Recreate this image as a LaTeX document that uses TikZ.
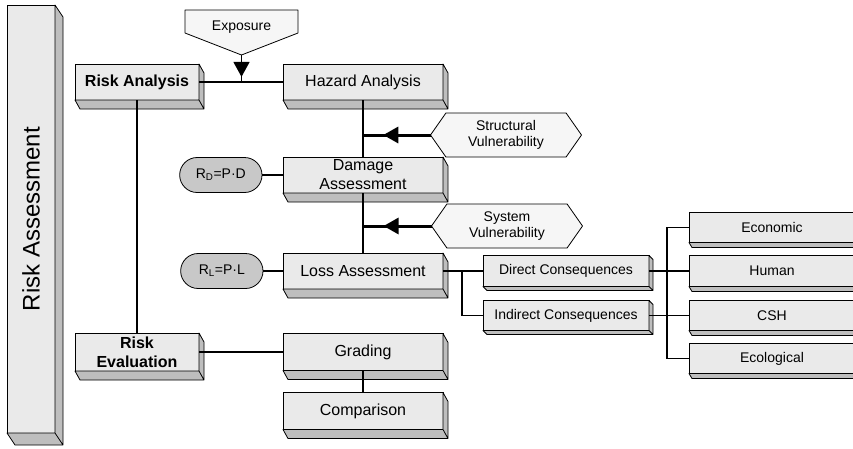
\documentclass[tikz,border=0pt]{standalone}
\usepackage{fontspec}
\setmainfont{Liberation Sans}
\usetikzlibrary{positioning,calc,shapes.symbols,shapes.misc,arrows.meta,backgrounds}
\definecolor{FaceGray}{RGB}{234,234,234}
\definecolor{SideGray}{RGB}{190,190,190}
\definecolor{PillGray}{RGB}{200,200,200}
\definecolor{PaleGray}{RGB}{246,246,246}

\begin{document}
\begin{tikzpicture}[
      x=1pt, y=-1pt,
      block/.style={rectangle, draw=black, fill=FaceGray, line width=0.8pt, outer sep=0pt, inner sep=2pt, align=center, minimum width=160pt, minimum height=36pt, font=\fontsize{16}{19}\selectfont},
      boldblock/.style={block, minimum width=124pt, font=\fontsize{16}{19}\selectfont\bfseries},
      small/.style={block, minimum width=166pt, minimum height=30pt, font=\fontsize{14}{17}\selectfont},
      pill/.style={rounded rectangle, draw=black, fill=PillGray, line width=0.8pt, outer sep=0pt, minimum width=89pt, minimum height=35pt, font=\fontsize{14}{17}\selectfont},
      hexa/.style={signal, signal to=west and east, signal pointer angle=110, draw=black, fill=PaleGray, line width=0.8pt, outer sep=0pt, minimum width=151pt, minimum height=44pt, align=center, font=\fontsize{14}{16.5}\selectfont},
      drop/.style={rectangle, outer sep=0pt, minimum width=113pt, inner ysep=0.5pt, text height=20pt, text depth=2pt, font=\fontsize{14}{17}\selectfont},
      depth/.style={fill=SideGray, draw=black, line width=0.8pt, line join=round},
      link/.style={line width=1.6pt},
      feed/.style={line width=3pt},
      tip/.style={-{Triangle[length=15pt,width=16pt]}}
    ]
      \useasboundingbox (0,0) rectangle (853,448);

      % main column
      \node[block, minimum width=48pt, minimum height=428pt, font=\fontsize{24}{28}\selectfont] (assess) at (31,219) {\rotatebox{90}{Risk Assessment}};
      \node[boldblock] (riskan) at (137,82) {Risk Analysis};
      \node[block] (hazard) at (363,82) {Hazard Analysis};
      \node[block, below=57pt of hazard] (damage) {Damage\\Assessment};
      \node[block, below=60pt of damage] (loss) {Loss Assessment};
      \node[boldblock, minimum height=38pt] (riskev) at (137,352) {Risk\\Evaluation};
      \node[block, minimum height=37pt] (grading) at (363,352) {Grading};
      \node[block, minimum height=37pt, below=22pt of grading] (compar) {Comparison};

      % inputs
      \node[drop, anchor=north] (exposure) at (241.5,10) {Exposure};
      \coordinate (exptip) at ($(exposure.south)+(0,22)$);
      \begin{scope}[on background layer]
        \filldraw[fill=PaleGray, line width=0.8pt, line join=round] (exposure.north west) -- (exposure.north east) -- (exposure.south east) -- (exptip) -- (exposure.south west) -- cycle;
      \end{scope}
      \node[hexa] (structural) at (506,135) {Structural\\Vulnerability};
      \node[hexa] (system) at (507,226) {System\\Vulnerability};
      \node[pill, left=21pt of damage] (rd) {R\textsubscript{D}=P·D};
      \node[pill, left=20pt of loss] (rl) {R\textsubscript{L}=P·L};

      % consequences
      \node[small, minimum height=31pt] (direct) at (566,271) {Direct Consequences};
      \node[small, below=14pt of direct] (indirect) {Indirect Consequences};
      \node[small, minimum height=31pt, right=40pt of direct] (human) {Human};
      \node[small, right=40pt of indirect] (csh) {CSH};
      \node[small, above=13pt of human] (economic) {Economic};
      \node[small, below=13pt of csh] (ecolog) {Ecological};

      % 3d sides
      \foreach \n/\dx/\dy in {assess/8/12, riskan/5/9, hazard/5/9, damage/5/9, loss/5/9, riskev/5/9, grading/5/9, compar/5/9, direct/4/4, indirect/4/4, economic/3/5, human/3/5, csh/3/5, ecolog/3/5}
        \filldraw[depth] (\n.north east) -- ++(\dx,\dy) -- ($(\n.south east)+(\dx,\dy)$) -- ($(\n.south west)+(\dx,\dy)$) -- (\n.south west) -- (\n.south east) -- cycle (\n.south east) -- ++(\dx,\dy);

      % connectors
      \coordinate (expjoin) at (exptip |- riskan.east);
      \draw[link] (riskan) -- (hazard);
      \draw[link] (exptip) -- (expjoin);
      \draw[link, tip] (exptip) -- ($(exptip)!0.81!(expjoin)$);
      \draw[link] (riskan) -- (riskev);
      \draw[link] (hazard) -- (damage);
      \draw[link] (damage) -- (loss);
      \coordinate (sjoin) at (hazard.south |- structural.west);
      \coordinate (yjoin) at (hazard.south |- system.west);
      \draw[feed] (structural.west) -- (sjoin);
      \draw[feed, tip] (structural.west) -- ($(structural.west)!0.7!(sjoin)$);
      \draw[feed] (system.west) -- (yjoin);
      \draw[feed, tip] (system.west) -- ($(system.west)!0.7!(yjoin)$);
      \draw[link] (rd) -- (damage);
      \draw[link] (rl) -- (loss);
      \draw[link] (riskev) -- (grading);
      \draw[link] (grading) -- (compar);
      \draw[link] (loss) -- (direct);
      \coordinate (split) at ($(loss.east)!0.48!(direct.west)$);
      \draw[link] (split) |- (indirect.west);
      \draw[link] (direct) -- (human);
      \draw[link] (indirect) -- (csh);
      \coordinate (bus) at ($(direct.east)!0.45!(human.west)$);
      \draw[link] (economic.west) -| (bus |- ecolog.west) -- (ecolog.west);
    \end{tikzpicture}
\end{document}
